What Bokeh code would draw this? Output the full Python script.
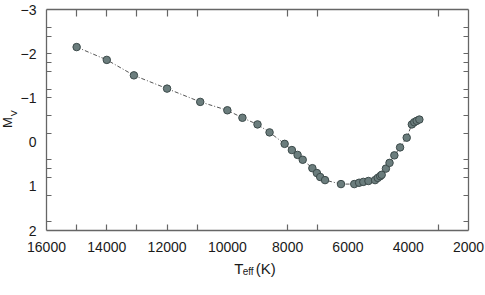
from bokeh.plotting import figure
from bokeh.models import Range1d, LinearAxis, FixedTicker, Label
from bokeh.embed import file_html
from bokeh.resources import INLINE
import math

teff = [15000, 14000, 13100, 12000, 10900, 10000, 9500, 9000, 8600, 8100,
        7860, 7670, 7500, 7180, 7030, 6920, 6760, 6230, 5790, 5630,
        5490, 5320, 5100, 5010, 4930, 4880, 4740, 4620, 4460, 4270,
        4050, 3880, 3800, 3720, 3630]
mv = [-2.15, -1.86, -1.51, -1.21, -0.91, -0.72, -0.55, -0.40, -0.22, 0.04,
      0.18, 0.29, 0.40, 0.59, 0.70, 0.79, 0.86, 0.95, 0.95, 0.92,
      0.90, 0.88, 0.86, 0.81, 0.77, 0.74, 0.60, 0.47, 0.30, 0.12,
      -0.10, -0.40, -0.45, -0.48, -0.51]

x_labels = [16000, 14000, 12000, 10000, 8000, 6000, 4000, 2000]
x_marks = [15000, 14000, 13000, 12000, 11000, 8000, 7000, 3000]
y_labels = [-3, -2, -1, 0, 1, 2]
y_marks = [-2.6, -2.4, -2.0, -1.8, -1.6, -1.2, -1.0, -0.6, -0.2, 0.4, 0.6, 0.8, 1.2, 1.8]

x_title_main = "T\u00a0\u00a0\u00a0(K)"
x_title_sub = "eff"
y_title_main = "M"
y_title_sub = "V"

FONT = "Liberation Sans"
AX = "#666666"
TXT = "#1a1a1a"

p = figure(width=485, height=295, x_range=Range1d(16000, 2000), y_range=Range1d(2, -3),
           output_backend="svg", toolbar_location=None,
           min_border_left=46, min_border_right=17, min_border_top=9, min_border_bottom=65)
p.xaxis.visible = False
p.yaxis.visible = False
p.grid.visible = False
p.outline_line_color = None
p.background_fill_color = "white"
p.border_fill_color = "white"

def style(ax, ticks, marks, show_labels, standoff, tick_len):
    ax.ticker = FixedTicker(ticks=ticks, minor_ticks=marks)
    ax.axis_line_color = AX
    ax.axis_line_width = 1.3
    ax.major_tick_in = 0
    ax.major_tick_out = 0
    ax.minor_tick_in = tick_len
    ax.minor_tick_out = 0
    ax.minor_tick_line_color = AX
    ax.minor_tick_line_width = 1.2
    if show_labels:
        ax.major_label_text_font = FONT
        ax.major_label_text_font_size = "14px"
        ax.major_label_text_color = TXT
        ax.major_label_standoff = standoff
    else:
        ax.major_label_text_font_size = "0px"
        ax.major_label_standoff = 0
        ax.major_label_overrides = {t: "" for t in ticks}

bx = LinearAxis(); style(bx, x_labels, x_marks, True, 11, 6); p.add_layout(bx, "below")
tx = LinearAxis(); style(tx, x_labels, x_marks, False, 0, 7); p.add_layout(tx, "above")
ly = LinearAxis(); style(ly, y_labels, y_marks, True, 10, 5); p.add_layout(ly, "left")
ry = LinearAxis(); style(ry, y_labels, y_marks, False, 0, 5); p.add_layout(ry, "right")

p.line(teff, mv, line_color="#555555", line_width=1, line_dash="4 2 1 2")
p.scatter(teff, mv, size=7.5, fill_color="#6b7d7d", line_color="#3c4a4a", line_width=1)

def lab(x, y, t, size, side, angle=0):
    p.add_layout(Label(x=x, y=y, x_units="screen", y_units="screen", text=t,
                       text_font=FONT, text_font_size=size,
                       text_color=TXT, text_align="left", text_baseline="alphabetic",
                       angle=angle), side)

lab(187.7, 3.2, x_title_main, "15px", "below")
lab(196.2, 11.4, x_title_sub, "10px", "below")
lab(4.7, 102.6, y_title_main, "13px", "left", math.pi / 2)
lab(-455, 114.3, y_title_sub, "9px", "right", math.pi / 2)

open("out.html", "w").write(file_html(p, INLINE))
